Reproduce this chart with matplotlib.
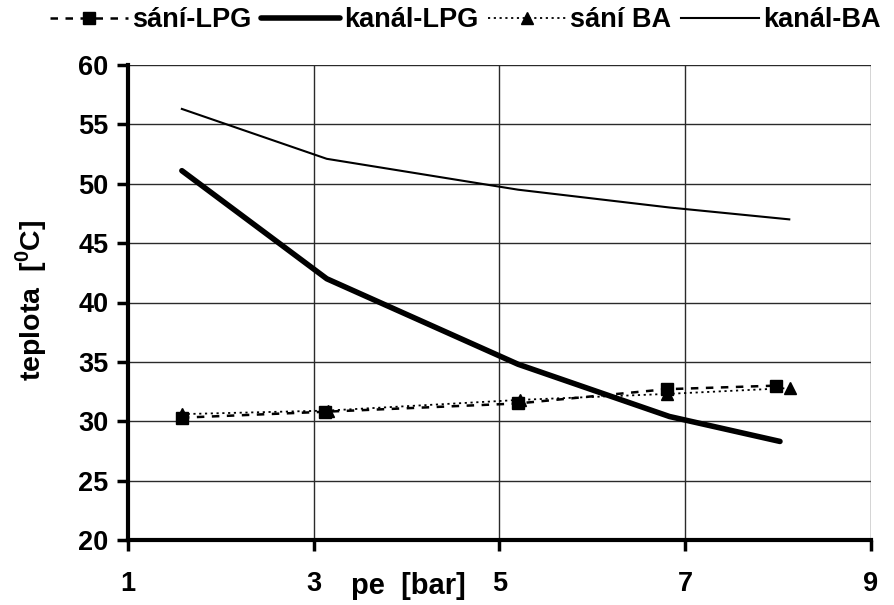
import matplotlib
matplotlib.use("Agg")
import matplotlib.pyplot as plt

plt.rcParams['font.family'] = ['Liberation Sans', 'DejaVu Sans']
plt.rcParams['font.weight'] = 'bold'
plt.rcParams['mathtext.fontset'] = 'custom'
plt.rcParams['mathtext.rm'] = 'Liberation Sans:bold'
plt.rcParams['mathtext.bf'] = 'Liberation Sans:bold'

# data
x_sani_lpg = [1.58, 3.12, 5.2, 6.8, 7.98]
y_sani_lpg = [30.3, 30.8, 31.5, 32.7, 33.0]
x_kanal_lpg = [1.58, 3.14, 5.2, 6.83, 8.02]
y_kanal_lpg = [51.1, 42.0, 34.8, 30.4, 28.3]
x_sani_ba = [1.58, 3.15, 5.22, 6.8, 8.13]
y_sani_ba = [30.6, 30.9, 31.8, 32.3, 32.8]
x_kanal_ba = [1.58, 3.14, 5.2, 6.83, 8.12]
y_kanal_ba = [56.3, 52.1, 49.5, 48.0, 47.0]

xticks = [1, 3, 5, 7, 9]
yticks = [20, 25, 30, 35, 40, 45, 50, 55, 60]

fig = plt.figure(figsize=(8.95, 6.05), dpi=100)
ax = fig.add_axes([128/895, 65/605, (871-128)/895, (540-65)/605])

ax.set_xlim(1, 9)
ax.set_ylim(20, 60)
ax.set_xticks(xticks)
ax.set_yticks(yticks)
ax.grid(True, color='#2a2a2a', linewidth=1.0)
ax.set_axisbelow(True)

l1, = ax.plot(x_sani_lpg, y_sani_lpg, color='black', linestyle=(0, (3, 3)), linewidth=1.8,
              marker='s', markersize=8, label='sání-LPG', zorder=3)
l2, = ax.plot(x_kanal_lpg, y_kanal_lpg, color='black', linestyle='-', linewidth=4,
              solid_capstyle='round', label='kanál-LPG', zorder=3)
l3, = ax.plot(x_sani_ba, y_sani_ba, color='black', linestyle=(0, (1.2, 2)), linewidth=1.3,
              marker='^', markersize=8, label='sání BA', zorder=3)
l4, = ax.plot(x_kanal_ba, y_kanal_ba, color='black', linestyle='-', linewidth=1.5,
              label='kanál-BA', zorder=3)

for s in ['top', 'right']:
    ax.spines[s].set_visible(False)
for s in ['left', 'bottom']:
    ax.spines[s].set_linewidth(3)
    ax.spines[s].set_color('black')

ax.tick_params(axis='both', direction='out', length=8, width=2.5, labelsize=19.5)
ax.tick_params(axis='y', pad=6)
ax.tick_params(axis='x', pad=14)
for lab in ax.get_xticklabels() + ax.get_yticklabels():
    lab.set_fontweight('bold')

fig.text(408/895, 1 - 586/605, 'pe  [bar]', fontsize=21, fontweight='bold',
         ha='center', va='center')
fig.text(31/895, 1 - 300/605, 'teplota  [$^0$C]', fontsize=20.5, fontweight='bold',
         ha='center', va='center', rotation=90)

fig.legend(handles=[l1, l2, l3, l4], loc='upper center', bbox_to_anchor=(0.52, 1.015), ncol=4,
           frameon=False, handlelength=2.9, handletextpad=0.15, columnspacing=0.35,
           borderaxespad=0.2, prop={'weight': 'bold', 'size': 19.5})

fig.savefig('out.png', dpi=100)
